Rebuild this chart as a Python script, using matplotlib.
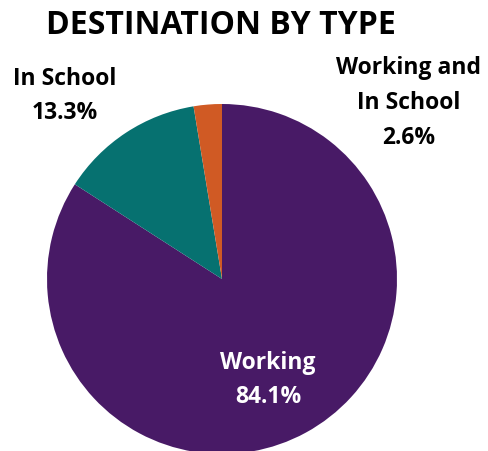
import matplotlib

matplotlib.use("Agg")
import matplotlib.pyplot as plt

labels = ["Working", "In School", "Working and\nIn School"]
shares = [84.1, 13.3, 2.6]
colors = ["#481a66", "#067170", "#d05a24"]

plt.rcParams["font.family"] = ["Open Sans", "DejaVu Sans"]

W, H = 488, 451
fig = plt.figure(figsize=(W / 100, H / 100), dpi=100)
ax = fig.add_axes([0, 0, 1, 1])

ax.pie(
    shares,
    colors=colors,
    startangle=90,
    counterclock=False,
    center=(222, H - 279),
    radius=175,
    frame=True,
)
ax.set_xlim(0, W)
ax.set_ylim(0, H)
ax.set_aspect("equal")
ax.axis("off")

ax.text(221, H - 25, "DESTINATION BY TYPE", ha="center", va="center",
        fontsize=23, fontweight="bold", color="black")

pct = [f"{s:.1f}%" for s in shares]
ax.text(65, H - 96, f"{labels[1]}\n{pct[1]}", ha="center", va="center",
        fontsize=16.5, fontweight="bold", color="black", linespacing=1.6)
ax.text(409, H - 103, f"{labels[2]}\n{pct[2]}", ha="center", va="center",
        fontsize=16.5, fontweight="bold", color="black", linespacing=1.6)
ax.text(268, H - 380, f"{labels[0]}\n{pct[0]}", ha="center", va="center",
        fontsize=16.5, fontweight="bold", color="white", linespacing=1.6)

fig.savefig("out.png", dpi=100)
